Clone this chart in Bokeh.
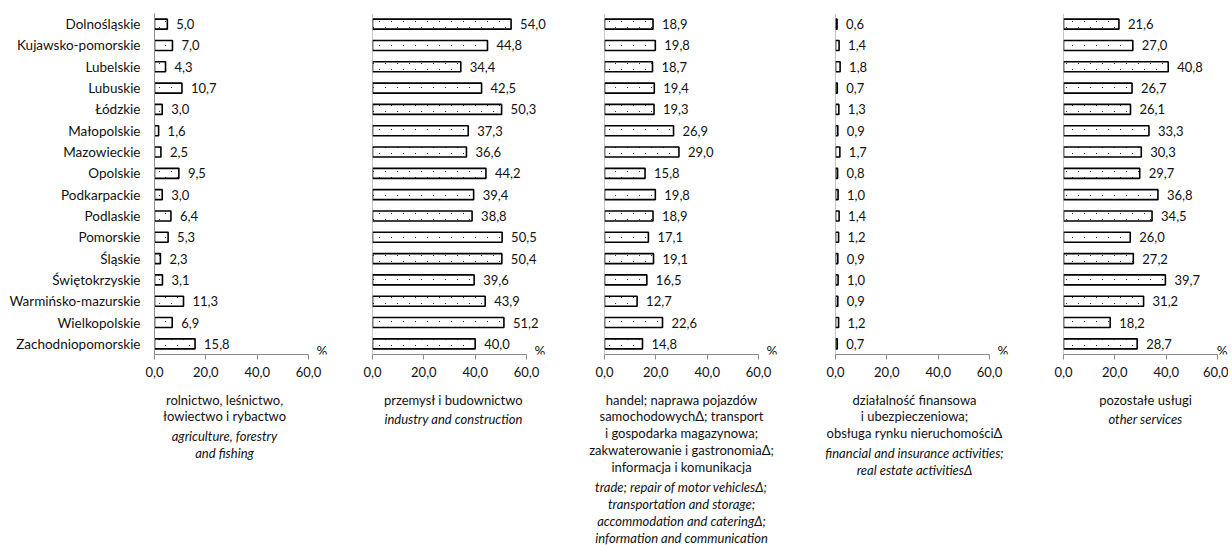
import zlib, struct, base64
from bokeh.plotting import figure
from bokeh.layouts import row, column
from bokeh.models import Range1d, FixedTicker, Span, ColumnDataSource, ImageURLTexture
from bokeh.core.properties import value
from bokeh.embed import file_html
from bokeh.resources import INLINE

# ---------------- data ----------------
regions = ["Dolnośląskie", "Kujawsko-pomorskie", "Lubelskie", "Lubuskie", "Łódzkie",
           "Małopolskie", "Mazowieckie", "Opolskie", "Podkarpackie", "Podlaskie",
           "Pomorskie", "Śląskie", "Świętokrzyskie", "Warmińsko-mazurskie",
           "Wielkopolskie", "Zachodniopomorskie"]

agriculture = [5.0, 7.0, 4.3, 10.7, 3.0, 1.6, 2.5, 9.5, 3.0, 6.4, 5.3, 2.3, 3.1, 11.3, 6.9, 15.8]
industry = [54.0, 44.8, 34.4, 42.5, 50.3, 37.3, 36.6, 44.2, 39.4, 38.8, 50.5, 50.4, 39.6, 43.9, 51.2, 40.0]
trade = [18.9, 19.8, 18.7, 19.4, 19.3, 26.9, 29.0, 15.8, 19.8, 18.9, 17.1, 19.1, 16.5, 12.7, 22.6, 14.8]
finance = [0.6, 1.4, 1.8, 0.7, 1.3, 0.9, 1.7, 0.8, 1.0, 1.4, 1.2, 0.9, 1.0, 0.9, 1.2, 0.7]
other = [21.6, 27.0, 40.8, 26.7, 26.1, 33.3, 30.3, 29.7, 36.8, 34.5, 26.0, 27.2, 39.7, 31.2, 18.2, 28.7]

tick_values = [0, 20, 40, 60]
tick_labels = ["0,0", "20,0", "40,0", "60,0"]
unit_label = "%"

titles_pl = [
    ["rolnictwo, leśnictwo,", "łowiectwo i rybactwo"],
    ["przemysł i budownictwo"],
    ["handel; naprawa pojazdów", "samochodowychΔ; transport", "i gospodarka magazynowa;",
     "zakwaterowanie i gastronomiaΔ;", "informacja i komunikacja"],
    ["działalność finansowa", "i ubezpieczeniowa;", "obsługa rynku nieruchomościΔ"],
    ["pozostałe usługi"],
]
titles_en = [
    ["agriculture, forestry", "and fishing"],
    ["industry and construction"],
    ["trade; repair of motor vehiclesΔ;", "transportation and storage;",
     "accommodation and cateringΔ;", "information and communication"],
    ["financial and insurance activities;", "real estate activitiesΔ"],
    ["other services"],
]
series = [agriculture, industry, trade, finance, other]

# ---------------- style / layout ----------------
FONT = "Lato"
TEXT = "#111111"
AXIS = "#8c8c8c"
PX_PER_UNIT = 154 / 60.0
FRAME_H = 341
TOP = 13
AXIS_BORDER = 30
CAPTION_H = 163
LINE_H = 16.9
FIRST_LINE = 15      # centre of first caption line, px from caption top
LANG_GAP = 3

# (min_border_left, frame_width, caption centre offset px, % align)
layout = [
    (154, 180, -7, "left"),
    (38, 180, 4, "left"),
    (52, 180, 0, "left"),
    (51, 180, 2, "left"),
    (48, 165, 5, "right"),
]


def dot_tile_png():
    # 12x12 transparent tile with two small dark specks (stipple texture)
    w = h = 12
    specks = {(3, 3), (9, 9)}
    raw = b""
    for yy in range(h):
        raw += b"\x00"
        for xx in range(w):
            raw += bytes([50, 50, 50, 255]) if (xx, yy) in specks else bytes([0, 0, 0, 0])

    def chunk(t, d):
        return struct.pack(">I", len(d)) + t + d + struct.pack(">I", zlib.crc32(t + d) & 0xffffffff)
    data = (b"\x89PNG\r\n\x1a\n" + chunk(b"IHDR", struct.pack(">IIBBBBB", w, h, 8, 6, 0, 0, 0))
            + chunk(b"IDAT", zlib.compress(raw)) + chunk(b"IEND", b""))
    return "data:image/png;base64," + base64.b64encode(data).decode()


stipple = ImageURLTexture(url=dot_tile_png(), repetition="repeat")

figs = []
cap_x, cap_y, cap_t, cap_style = [], [], [], []
canvas_left = 0
for k, vals in enumerate(series):
    mbl, fw, toff, pct_align = layout[k]
    xmax = fw / PX_PER_UNIT
    n = len(regions)
    p = figure(frame_width=fw, frame_height=FRAME_H,
               x_range=Range1d(0, xmax), y_range=Range1d(n - 0.5, -0.5),
               output_backend="svg", toolbar_location=None,
               min_border_left=mbl, min_border_right=0, min_border_top=TOP,
               min_border_bottom=AXIS_BORDER,
               outline_line_color=None, background_fill_color="white",
               border_fill_color="white")
    p.xgrid.visible = False
    p.ygrid.visible = False

    src = ColumnDataSource(dict(
        y=list(range(n)),
        v=vals,
        lbl=[f"{v:.1f}".replace(".", ",") for v in vals],
    ))
    p.hbar(y="y", left=0, right="v", height=0.47, source=src,
           fill_color="white", line_color="black", line_width=1.6,
           hatch_pattern=value("stipple"), hatch_extra={"stipple": stipple}, hatch_scale=12)
    p.text(x="v", y="y", text="lbl", source=src, x_offset=9,
           text_baseline="middle", text_align="left",
           text_font=value(FONT), text_font_size="13px", text_color=TEXT)

    if pct_align == "left":
        px, pxo = 60, 8
    else:
        px, pxo = xmax, -1
    p.text(x=[px], y=[n - 0.5], text=[unit_label], x_offset=pxo, y_offset=-4,
           text_baseline="middle", text_align=pct_align,
           text_font=value(FONT), text_font_size="13.5px", text_color=TEXT)

    # x axis
    xa = p.xaxis[0]
    xa.ticker = FixedTicker(ticks=tick_values)
    xa.major_label_overrides = {t: l for t, l in zip(tick_values, tick_labels)}
    xa.bounds = (0, 60)
    xa.axis_line_color = AXIS
    xa.major_tick_line_color = AXIS
    xa.major_tick_out = 5
    xa.major_tick_in = 0
    xa.minor_tick_out = 0
    xa.minor_tick_in = 0
    xa.major_label_standoff = 7
    xa.major_label_text_font = FONT
    xa.major_label_text_font_size = "13px"
    xa.major_label_text_color = TEXT

    ya = p.yaxis[0]
    if k == 0:
        ya.ticker = FixedTicker(ticks=list(range(n)))
        ya.major_label_overrides = {i: r for i, r in enumerate(regions)}
        ya.axis_line_color = AXIS
        ya.major_tick_out = 0
        ya.major_tick_in = 0
        ya.minor_tick_out = 0
        ya.minor_tick_in = 0
        ya.major_label_standoff = 14
        ya.major_label_text_font = FONT
        ya.major_label_text_font_size = "13.5px"
        ya.major_label_text_color = TEXT
    else:
        ya.visible = False
        p.add_layout(Span(location=0, dimension="height", line_color=AXIS, line_width=1))
    figs.append(p)

    # caption lines, centred under the 0-60 axis span of this panel
    cx = canvas_left + mbl + 30 * PX_PER_UNIT + toff
    lines = [(t, "normal") for t in titles_pl[k]] + [(t, "italic") for t in titles_en[k]]
    ypx = FIRST_LINE
    for i, (t, style) in enumerate(lines):
        if i > 0:
            ypx += LINE_H + (LANG_GAP if (style == "italic" and lines[i - 1][1] == "normal") else 0)
        cap_x.append(cx)
        cap_y.append(ypx)
        cap_t.append(t)
        cap_style.append(style)
    canvas_left += mbl + fw

total_w = canvas_left
cap = figure(frame_width=total_w, frame_height=CAPTION_H,
             x_range=Range1d(0, total_w), y_range=Range1d(CAPTION_H, 0),
             output_backend="svg", toolbar_location=None,
             min_border_left=0, min_border_right=0, min_border_top=0, min_border_bottom=0,
             outline_line_color=None, background_fill_color="white",
             border_fill_color="white")
cap.axis.visible = False
cap.grid.visible = False
for style in ("normal", "italic"):
    idx = [i for i, s in enumerate(cap_style) if s == style]
    cap.text(x=[cap_x[i] for i in idx], y=[cap_y[i] for i in idx], text=[cap_t[i] for i in idx],
             text_align="center", text_baseline="middle",
             text_font=value(FONT), text_font_size="13px", text_font_style=style,
             text_color=TEXT)

page = column(row(*figs, spacing=0), cap, spacing=0)
open("out.html", "w").write(file_html(page, INLINE))
